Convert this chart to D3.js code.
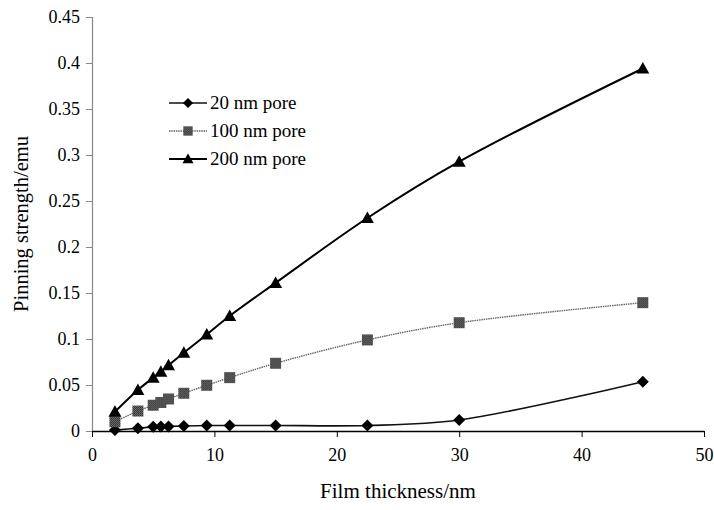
<!DOCTYPE html>
<html>
<head>
<meta charset="utf-8">
<script src="https://cdn.jsdelivr.net/npm/d3@7"></script>
<style>
  body { margin: 0; background: #fff; }
  svg text { font-family: "Liberation Serif", "DejaVu Serif", serif; fill: #000; }
</style>
</head>
<body>
<svg id="chart" width="714" height="510"></svg>
<script>
// film thickness (nm)
var thickness = [1.875, 3.75, 5, 5.625, 6.25, 7.5, 9.375, 11.25, 15, 22.5, 30, 45];

// pinning strength (emu) per pore size
var pore20 = [0.001, 0.003, 0.0045, 0.0048, 0.005, 0.0055, 0.006, 0.006, 0.006, 0.006, 0.012, 0.0536];
var pore100 = [0.010, 0.0217, 0.028, 0.031, 0.0348, 0.041, 0.0497, 0.058, 0.0736, 0.099, 0.1177, 0.1395];
var pore200 = [0.021, 0.0446, 0.058, 0.0645, 0.0714, 0.085, 0.105, 0.125, 0.161, 0.2315, 0.2927, 0.394];

var seriesNames = ['20 nm pore', '100 nm pore', '200 nm pore'];
var xTicks = [0, 10, 20, 30, 40, 50];
var yTicks = [0, 0.05, 0.1, 0.15, 0.2, 0.25, 0.3, 0.35, 0.4, 0.45];

var serif = '"Liberation Serif", "DejaVu Serif", serif';
var svg = d3.select('#chart');

var defs = svg.append('defs');
var pat = defs.append('pattern')
    .attr('id', 'stipple')
    .attr('width', 2).attr('height', 2)
    .attr('patternUnits', 'userSpaceOnUse');
pat.append('rect').attr('width', 2).attr('height', 2).attr('fill', '#777');
pat.append('rect').attr('width', 1).attr('height', 1).attr('fill', '#222');
pat.append('rect').attr('x', 1).attr('y', 1).attr('width', 1).attr('height', 1).attr('fill', '#333');

var x = d3.scaleLinear().domain([0, 50]).range([92, 704]);
var y = d3.scaleLinear().domain([0, 0.45]).range([431, 17]);

// y axis
var yAxis = svg.append('g')
    .attr('transform', 'translate(' + x(0) + ',0)')
    .call(d3.axisLeft(y).tickValues(yTicks).tickSize(6).tickPadding(6)
        .tickFormat(function (d) { return d === 0 ? '0' : String(+d.toFixed(2)); }));
yAxis.attr('font-family', serif);
yAxis.select('.domain').attr('stroke', '#888').attr('stroke-width', 1.2);
yAxis.selectAll('.tick line').attr('stroke', '#888');
yAxis.selectAll('text').attr('font-size', 18).style('font-family', serif);

// x axis
var xAxis = svg.append('g')
    .attr('transform', 'translate(0,' + y(0) + ')')
    .call(d3.axisBottom(x).tickValues(xTicks).tickSize(6).tickPadding(11).tickSizeOuter(0));
xAxis.attr('font-family', serif);
xAxis.select('.domain').attr('stroke', '#000').attr('stroke-width', 1.4);
xAxis.selectAll('.tick line').attr('stroke', '#000');
xAxis.selectAll('text').attr('font-size', 18).style('font-family', serif);

svg.append('text')
    .attr('x', 398).attr('y', 498)
    .attr('text-anchor', 'middle')
    .attr('font-size', 21)
    .text('Film thickness/nm');

svg.append('text')
    .attr('transform', 'translate(28,224) rotate(-90)')
    .attr('text-anchor', 'middle')
    .attr('font-size', 20.5)
    .text('Pinning strength/emu');

var line = d3.line()
    .x(function (d) { return x(d[0]); })
    .y(function (d) { return y(d[1]); })
    .curve(d3.curveCatmullRom.alpha(0.5));

var series = [
    { name: seriesNames[0], values: pore20, stroke: '#111', width: 1.6, dash: null, shape: 'diamond', fill: '#000' },
    { name: seriesNames[1], values: pore100, stroke: '#666', width: 1.4, dash: '1.5,0.8', shape: 'square', fill: 'url(#stipple)' },
    { name: seriesNames[2], values: pore200, stroke: '#000', width: 2, dash: null, shape: 'triangle', fill: '#000' }
];

function marker(sel, s) {
    if (s.shape === 'diamond') {
        sel.append('path').attr('d', 'M0,-6L6,0L0,6L-6,0Z');
    } else if (s.shape === 'square') {
        sel.append('rect').attr('x', -5.5).attr('y', -5.5).attr('width', 11).attr('height', 11);
    } else {
        sel.append('path').attr('d', 'M0,-6.5L6.5,5L-6.5,5Z');
    }
    sel.selectAll('*').attr('fill', s.fill);
}

series.forEach(function (s) {
    var pts = thickness.map(function (t, i) { return [t, s.values[i]]; });
    svg.append('path')
        .datum(pts)
        .attr('fill', 'none')
        .attr('stroke', s.stroke)
        .attr('stroke-width', s.width)
        .attr('stroke-dasharray', s.dash)
        .attr('d', line);
    svg.append('g').selectAll('g')
        .data(pts)
        .enter()
        .append('g')
        .attr('transform', function (d) { return 'translate(' + x(d[0]) + ',' + y(d[1]) + ')'; })
        .each(function () { marker(d3.select(this), s); });
});

// legend
var legend = svg.append('g');
series.forEach(function (s, i) {
    var ly = 103 + i * 28;
    var g = legend.append('g');
    g.append('line')
        .attr('x1', 169).attr('x2', 207)
        .attr('y1', ly).attr('y2', ly)
        .attr('stroke', s.stroke)
        .attr('stroke-width', s.width)
        .attr('stroke-dasharray', s.dash);
    var m = g.append('g').attr('transform', 'translate(188,' + ly + ') scale(0.85)');
    marker(m, s);
    g.append('text')
        .attr('x', 210).attr('y', ly + 6)
        .attr('font-size', 19)
        .style('font-family', serif)
        .text(s.name);
});
</script>
</body>
</html>
